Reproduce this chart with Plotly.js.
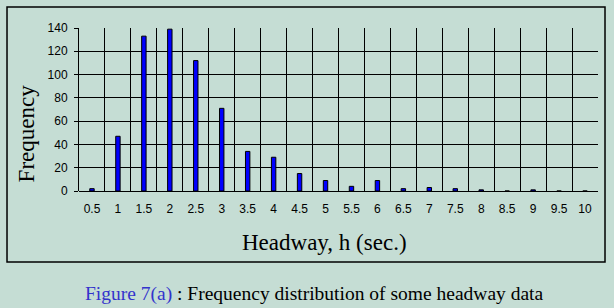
<!DOCTYPE html>
<html>
<head>
<meta charset="utf-8">
<script src="https://cdn.plot.ly/plotly-3.0.1.min.js"></script>
<style>
html,body{margin:0;padding:0;background:#c5ddd4;}
#chart{width:614px;height:308px;}
</style>
</head>
<body>
<div id="chart"></div>
<script>
var headwayLabels = ["0.5","1","1.5","2","2.5","3","3.5","4","4.5","5","5.5","6","6.5","7","7.5","8","8.5","9","9.5","10"];
var frequency = [2,47,133,139,112,71,34,29,15,9,4,9,2,3,2,1,0,1,0,0];
var yTicks = [0,20,40,60,80,100,120,140];
var xTitle = 'Headway, h (sec.)';
var yTitle = 'Frequency';
var captionLead = 'Figure 7(a)';
var captionRest = ' : Frequency distribution of some headway data';

var bg = '#c5ddd4';
var serif = 'Liberation Serif, Times New Roman, serif';
var sans = 'Liberation Sans, Arial, sans-serif';

var trace = {
  type: 'bar',
  x: headwayLabels,
  y: frequency,
  width: 0.17,
  marker: {color: '#0000ff', line: {color: '#000000', width: 1}},
  hoverinfo: 'x+y'
};

var layout = {
  width: 614, height: 308,
  paper_bgcolor: bg, plot_bgcolor: bg,
  margin: {l: 79, r: 16, t: 28, b: 117},
  showlegend: false,
  bargap: 0,
  xaxis: {
    type: 'category',
    tickson: 'boundaries',
    showgrid: true, gridcolor: '#000000', gridwidth: 1,
    showline: false,
    ticks: '',
    ticklabelstandoff: 9,
    tickfont: {family: sans, size: 12, color: '#000'},
    fixedrange: true
  },
  yaxis: {
    range: [0, 140],
    tickvals: yTicks,
    showgrid: true, gridcolor: '#000000', gridwidth: 1,
    zeroline: true, zerolinecolor: '#000000', zerolinewidth: 1,
    showline: true, linecolor: '#000000', linewidth: 1,
    ticks: 'outside', ticklen: 4, tickcolor: '#000000',
    ticklabelstandoff: 4,
    tickfont: {family: sans, size: 12, color: '#000'},
    fixedrange: true
  },
  shapes: [{
    type: 'rect', xref: 'paper', yref: 'paper',
    x0: -0.1387, x1: 1.0135, y0: -0.4356, y1: 1.1288,
    line: {color: '#000000', width: 1.5}, fillcolor: 'rgba(0,0,0,0)', layer: 'below'
  }],
  annotations: [
    {
      xref: 'paper', yref: 'paper', x: 0.4724, y: -0.317,
      xanchor: 'center', yanchor: 'middle', showarrow: false,
      text: xTitle,
      font: {family: serif, size: 23, color: '#000'}
    },
    {
      xref: 'paper', yref: 'paper', x: -0.1004, y: 0.3528,
      xanchor: 'center', yanchor: 'middle', showarrow: false, textangle: -90,
      text: yTitle,
      font: {family: serif, size: 23, color: '#000'}
    },
    {
      xref: 'paper', yref: 'paper', x: 0.4528, y: -0.629,
      xanchor: 'center', yanchor: 'middle', showarrow: false,
      text: '<span style="color:#3333cc">' + captionLead + '</span>' + captionRest,
      font: {family: serif, size: 19.5, color: '#000'}
    }
  ]
};

Plotly.newPlot('chart', [trace], layout, {displayModeBar: false, staticPlot: true});
</script>
</body>
</html>
